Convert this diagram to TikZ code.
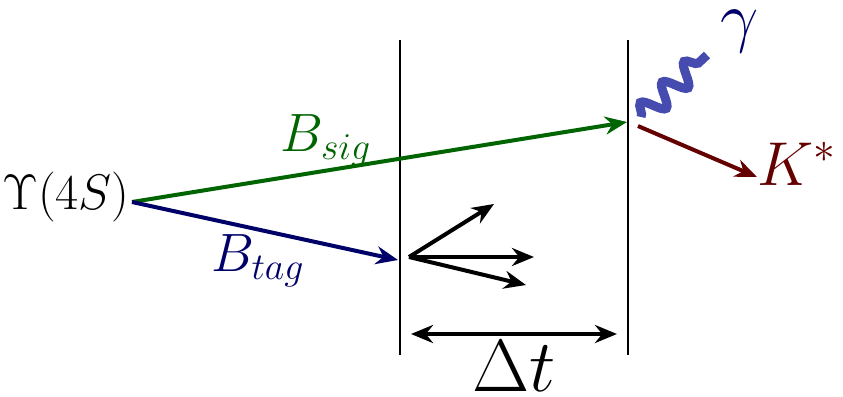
\RequirePackage{fix-cm}
\documentclass[tikz,border=0pt]{standalone}
\usetikzlibrary{arrows.meta,decorations.pathmorphing}
\definecolor{bsig}{RGB}{0,100,0}
\definecolor{btag}{RGB}{0,0,105}
\definecolor{kstar}{RGB}{100,0,0}
\definecolor{phot}{RGB}{70,75,175}
\newcommand{\fs}[1]{\fontsize{#1}{#1}\selectfont}
\begin{document}
\begin{tikzpicture}[x=0.5pt,y=-0.5pt,
  every node/.style={font=\fs{25},inner sep=1pt},
  mom/.style={line width=2pt,-{Stealth[length=11pt,width=9pt]}},
  wall/.style={line width=0.75pt},
  gam/.style={line width=4.5pt,phot,decorate,
    decoration={snake,segment length=15pt,amplitude=5.5pt}}]
 \useasboundingbox (0,0) rectangle (843,397);
 % production point
 \node (ups) at (66,197) {$\Upsilon(4S)$};
 \coordinate (o) at (132,202);
 % decay planes
 \coordinate (w1t) at (400,40); \coordinate (w1b) at (400,355);
 \coordinate (w2t) at (628,40); \coordinate (w2b) at (628,355);
 \draw[wall] (w1t)--(w1b) (w2t)--(w2b);
 % the two B mesons
 \coordinate (sig) at (627,122);
 \coordinate (tag) at (398,260);
 \draw[mom,bsig] (o)--(sig);
 \draw[mom,btag] (o)--(tag);
 \node[bsig,font=\fs{27}] (lsig) at (326,141) {$B_{sig}$};
 \node[btag,font=\fs{27}] (ltag) at (258,261) {$B_{tag}$};
 % tag side products
 \coordinate (tv) at (409,257);
 \coordinate (t1) at (494,204); \coordinate (t2) at (534,257); \coordinate (t3) at (526,285);
 \draw[mom,black] (tv)--(t1);
 \draw[mom,black] (tv)--(t2);
 \draw[mom,black] (tv)--(t3);
 % signal side products
 \coordinate (gs) at (641,117); \coordinate (ge) at (707,55);
 \draw[gam] (gs)--(ge);
 \node[btag,font=\fs{34},inner sep=0pt] (lgam) at (740,31) {$\gamma$};
 \coordinate (ks) at (638,126); \coordinate (ke) at (757,177);
 \draw[mom,kstar] (ks)--(ke);
 \node[kstar,font=\fs{31}] (lk) at (797,164) {$K^*$};
 % decay time difference
 \coordinate (da) at (411,334); \coordinate (db) at (617,334);
 \draw[line width=2pt,{Stealth[length=11pt,width=9pt]}-{Stealth[length=11pt,width=9pt]}] (da)--(db);
 \node[font=\fs{37},inner sep=0pt] (ldt) at (514,366) {$\Delta t$};
\end{tikzpicture}
\end{document}
